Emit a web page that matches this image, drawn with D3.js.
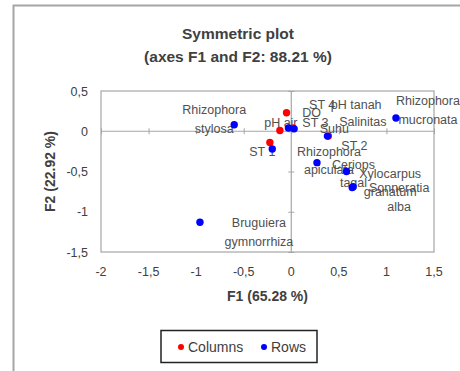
<!DOCTYPE html>
<html>
<head>
<meta charset="utf-8">
<script src="https://cdn.jsdelivr.net/npm/d3@7"></script>
<style>
  body { margin: 0; background: #fff; }
  text { font-family: "Liberation Sans", Arial, sans-serif; }
</style>
</head>
<body>
<svg></svg>
<script>
// points (F1, F2)
const columns = [
    { name: "DO", f1: -0.05, f2: 0.23 },
    { name: "pH air", f1: -0.12, f2: 0.01 },
    { name: "pH tanah", f1: 0.02, f2: 0.04 },
    { name: "Salinitas", f1: -0.225, f2: -0.14 },
    { name: "Suhu", f1: 0.39, f2: -0.06 }
];
const rows = [
    { name: "Rhizophora stylosa", f1: -0.6, f2: 0.08 },
    { name: "ST 1", f1: -0.2, f2: -0.22 },
    { name: "ST 3", f1: -0.03, f2: 0.04 },
    { name: "ST 4", f1: 0.03, f2: 0.03 },
    { name: "ST 2", f1: 0.38, f2: -0.06 },
    { name: "Rhizophora apiculata", f1: 0.27, f2: -0.39 },
    { name: "Rhizophora mucronata", f1: 1.1, f2: 0.165 },
    { name: "Ceriops tagal", f1: 0.58, f2: -0.5 },
    { name: "Xylocarpus granatum", f1: 0.64, f2: -0.7 },
    { name: "Sonneratia alba", f1: 0.65, f2: -0.69 },
    { name: "Bruguiera gymnorrhiza", f1: -0.96, f2: -1.13 }
];
const xTicks = [-2, -1.5, -1, -0.5, 0, 0.5, 1, 1.5];
const yTicks = [-1.5, -1, -0.5, 0, 0.5];

// label placement (pixel offset of label block centre from its point, split lines)
const labelLayout = {
    "DO": { dx: 25, dy: 0, lines: ["DO"] },
    "pH air": { dx: 1, dy: -8, lines: ["pH air"] },
    "pH tanah": { dx: 63, dy: -24, lines: ["pH tanah"] },
    "Salinitas": { dx: 93, dy: -21, lines: ["Salinitas"] },
    "Suhu": { dx: 6, dy: -8, lines: ["Suhu"] },
    "Rhizophora stylosa": { dx: -20, dy: -6, lines: ["Rhizophora", "stylosa"] },
    "ST 1": { dx: -10, dy: 3, lines: ["ST 1"] },
    "ST 3": { dx: 27, dy: -6, lines: ["ST 3"] },
    "ST 4": { dx: 28, dy: -24, lines: ["ST 4"] },
    "ST 2": { dx: 27, dy: 9, lines: ["ST 2"] },
    "Rhizophora apiculata": { dx: 12, dy: -2, lines: ["Rhizophora", "apiculata"] },
    "Rhizophora mucronata": { dx: 32, dy: -8, lines: ["Rhizophora", "mucronata"] },
    "Ceriops tagal": { dx: 7, dy: 2, lines: ["Ceriops", "tagal"] },
    "Xylocarpus granatum": { dx: 38, dy: -5, lines: ["Xylocarpus", "granatum"] },
    "Sonneratia alba": { dx: 46, dy: 10, lines: ["Sonneratia", "alba"] },
    "Bruguiera gymnorrhiza": { dx: 59, dy: 10, lines: ["Bruguiera", "gymnorrhiza"] }
};

const width = 460, height = 371;
const plotLeft = 101, plotRight = 434, plotTop = 91, plotBottom = 252;
const lineGap = 18.5;
const textGray = "#404040";

const svg = d3.select("svg")
    .attr("width", width)
    .attr("height", height);

// Rahmen des Diagramms
svg.append("path")
    .attr("d", `M13.5,${height} V5.5 H${width}`)
    .attr("fill", "none")
    .attr("stroke", "#a6a6a6")
    .attr("stroke-width", 2);

const x = d3.scaleLinear().domain([-2, 1.5]).range([plotLeft, plotRight]);
const y = d3.scaleLinear().domain([-1.5, 0.5]).range([plotBottom, plotTop]);

// Titel
svg.append("text")
    .attr("x", 238).attr("y", 39)
    .attr("text-anchor", "middle")
    .attr("font-size", 15.5).attr("font-weight", "bold")
    .attr("fill", textGray)
    .text("Symmetric plot");
svg.append("text")
    .attr("x", 238).attr("y", 62)
    .attr("text-anchor", "middle")
    .attr("font-size", 15.5).attr("font-weight", "bold")
    .attr("fill", textGray)
    .text("(axes F1 and F2: 88.21 %)");

// Plotbereich
svg.append("rect")
    .attr("x", plotLeft).attr("y", plotTop)
    .attr("width", plotRight - plotLeft).attr("height", plotBottom - plotTop)
    .attr("fill", "none")
    .attr("stroke", "#a6a6a6")
    .attr("stroke-width", 1.2);

// Nulllinien mit Ticks
const xAxis = svg.append("g")
    .attr("transform", `translate(0,${y(0)})`)
    .call(d3.axisBottom(x).tickValues(xTicks).tickSize(3).tickFormat(""));
xAxis.selectAll(".tick line").attr("y1", -3);
const yAxis = svg.append("g")
    .attr("transform", `translate(${x(0)},0)`)
    .call(d3.axisLeft(y).tickValues(yTicks).tickSize(3).tickFormat(""));
yAxis.selectAll(".tick line").attr("x1", 3);
svg.selectAll(".domain").attr("stroke", "#a6a6a6").attr("stroke-width", 1.2);
svg.selectAll(".tick line").attr("stroke", "#a6a6a6");
xAxis.select(".domain").attr("d", `M${plotLeft},0H${plotRight}`);
yAxis.select(".domain").attr("d", `M0,${plotTop}V${plotBottom}`);

const fmt = v => String(v).replace(".", ",");

// Tick-Beschriftungen
svg.append("g").selectAll("text")
    .data(xTicks)
    .enter()
    .append("text")
    .attr("x", d => x(d))
    .attr("y", 275.5)
    .attr("text-anchor", "middle")
    .attr("font-size", 12.5)
    .attr("fill", textGray)
    .text(fmt);
svg.append("g").selectAll("text")
    .data(yTicks)
    .enter()
    .append("text")
    .attr("x", 88)
    .attr("y", d => y(d) + 4.5)
    .attr("text-anchor", "end")
    .attr("font-size", 12.5)
    .attr("fill", textGray)
    .text(fmt);

// Achsentitel
svg.append("text")
    .attr("x", (plotLeft + plotRight) / 2).attr("y", 301)
    .attr("text-anchor", "middle")
    .attr("font-size", 14).attr("font-weight", "bold")
    .attr("fill", textGray)
    .text("F1 (65.28 %)");
svg.append("text")
    .attr("transform", `translate(55,${(plotTop + plotBottom) / 2}) rotate(-90)`)
    .attr("text-anchor", "middle")
    .attr("font-size", 14).attr("font-weight", "bold")
    .attr("fill", textGray)
    .text("F2 (22.92 %)");

// Punkte
const all = columns.map(d => ({ ...d, color: "red" }))
    .concat(rows.map(d => ({ ...d, color: "blue" })));

// Beschriftungen
const labels = svg.append("g").selectAll("text")
    .data(all)
    .enter()
    .append("text")
    .attr("text-anchor", "middle")
    .attr("font-size", 12.5)
    .attr("fill", "#505050");
labels.each(function (d) {
    const lay = labelLayout[d.name];
    const cx = x(d.f1) + lay.dx;
    const cy = y(d.f2) + lay.dy - (lay.lines.length - 1) * lineGap / 2;
    d3.select(this).selectAll("tspan")
        .data(lay.lines)
        .enter()
        .append("tspan")
        .attr("x", cx)
        .attr("y", (t, i) => cy + i * lineGap + 4.5)
        .text(t => t);
});

svg.append("g").selectAll("circle")
    .data(all)
    .enter()
    .append("circle")
    .attr("cx", d => x(d.f1))
    .attr("cy", d => y(d.f2))
    .attr("r", 3.7)
    .attr("fill", d => d.color);

// Legende
const legend = svg.append("g");
legend.append("rect")
    .attr("x", 161).attr("y", 330.5)
    .attr("width", 156).attr("height", 32)
    .attr("fill", "#fff")
    .attr("stroke", "#222")
    .attr("stroke-width", 1.5);
const legendItems = [{ name: "Columns", color: "red", x: 181 }, { name: "Rows", color: "blue", x: 264 }];
legend.selectAll("circle")
    .data(legendItems)
    .enter()
    .append("circle")
    .attr("cx", d => d.x).attr("cy", 347)
    .attr("r", 3)
    .attr("fill", d => d.color);
legend.selectAll("text")
    .data(legendItems)
    .enter()
    .append("text")
    .attr("x", d => d.x + 7).attr("y", 352)
    .attr("font-size", 14)
    .attr("fill", textGray)
    .text(d => d.name);
</script>
</body>
</html>
